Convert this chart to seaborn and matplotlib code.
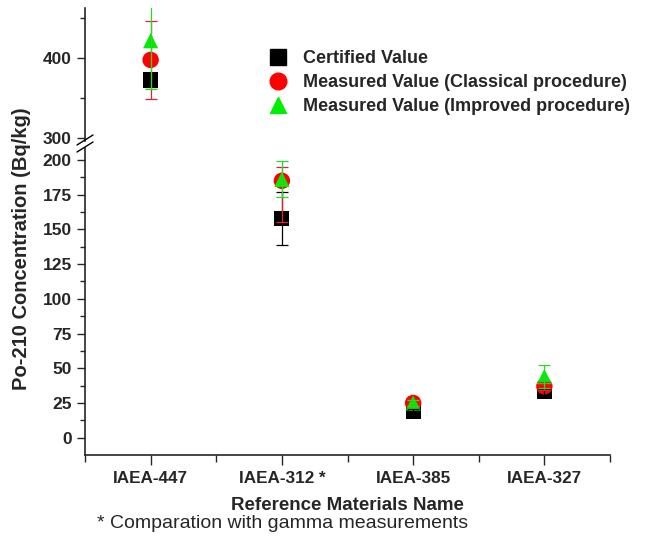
import numpy as np
import pandas as pd
import matplotlib
matplotlib.use("Agg")
import matplotlib.pyplot as plt
from matplotlib.lines import Line2D
from matplotlib.ticker import MultipleLocator, FixedLocator
import seaborn as sns

# ---- data ----
categories = ["IAEA-447", "IAEA-312 *", "IAEA-385", "IAEA-327"]
certified = [373, 158, 19, 33]
certified_err = [9, 19, 2, 2]
classical = [398, 185, 25, 37]
classical_err_low = [49, 30, 2, 3]
classical_err_high = [49, 10, 2, 3]
improved = [422, 186, 25, 44]
improved_err = [61, 13, 2, 8.5]
series_names = ["Certified Value",
                "Measured Value (Classical procedure)",
                "Measured Value (Improved procedure)"]

sns.set_theme(style="ticks")
plt.rcParams["font.family"] = ["Liberation Sans", "DejaVu Sans"]
plt.rcParams["font.weight"] = "bold"

pos = np.arange(len(categories))
df = pd.DataFrame({
    "pos": np.concatenate([pos, pos, pos]),
    "value": certified + classical + improved,
    "err_low": certified_err + classical_err_low + improved_err,
    "err_high": certified_err + classical_err_high + improved_err,
    "series": np.repeat(series_names, len(categories)),
})

colors = {series_names[0]: "#000000", series_names[1]: "#ff0000", series_names[2]: "#00ee00"}
markers = {series_names[0]: "s", series_names[1]: "o", series_names[2]: "^"}
sizes = {series_names[0]: 120, series_names[1]: 140, series_names[2]: 120}
ecolors = {series_names[0]: "#000000", series_names[1]: "#e0203a", series_names[2]: "#22dd22"}

W, H = 645, 539
fig = plt.figure(figsize=(6.45, 5.39), dpi=100)
L, R = 85, 610
ax_low = fig.add_axes([L / W, (H - 454.5) / H, (R - L) / W, (454.5 - 148) / H])
ax_up = fig.add_axes([L / W, (H - 141) / H, (R - L) / W, (141 - 8) / H])

for ax in (ax_low, ax_up):
    for s in series_names:
        sub = df[df["series"] == s]
        sns.scatterplot(data=sub, x="pos", y="value", ax=ax, marker=markers[s],
                        color=colors[s], s=sizes[s], edgecolor="none",
                        legend=False, zorder=2)
    for s in series_names:
        sub = df[df["series"] == s]
        ax.errorbar(sub["pos"], sub["value"],
                    yerr=[sub["err_low"].to_numpy(), sub["err_high"].to_numpy()],
                    fmt="none", ecolor=ecolors[s], elinewidth=0.9, capsize=4,
                    capthick=0.9, zorder=3)
    ax.set_xlim(-0.5, len(categories) - 0.5)
    ax.set_xlabel("")
    ax.set_ylabel("")
    ax.set_facecolor("white")
    for sp in ("top", "right"):
        ax.spines[sp].set_visible(False)
    ax.spines["left"].set_linewidth(1.2)
    ax.spines["bottom"].set_linewidth(1.2)
    ax.tick_params(axis="y", which="major", length=6, width=1.0, labelsize=12.5)
    ax.tick_params(axis="y", which="minor", length=3.5, width=1.0)

ax_low.set_ylim(-12.1, 208.6)
ax_low.yaxis.set_major_locator(MultipleLocator(25))
ax_low.yaxis.set_minor_locator(MultipleLocator(12.5))
ax_low.set_xticks(pos)
ax_low.set_xticklabels(categories, fontsize=12.3, fontweight="bold")
ax_low.xaxis.set_minor_locator(FixedLocator(np.arange(-0.5, len(categories), 1.0)))
ax_low.tick_params(axis="x", which="major", length=7, width=1.0, pad=5)
ax_low.tick_params(axis="x", which="minor", length=5, width=1.0)

ax_up.set_ylim(296.6, 462.9)
ax_up.yaxis.set_major_locator(MultipleLocator(100))
ax_up.yaxis.set_minor_locator(MultipleLocator(50))
ax_up.spines["bottom"].set_visible(False)
ax_up.set_xticks([])
ax_up.xaxis.set_minor_locator(FixedLocator([]))

for ax in (ax_low, ax_up):
    for lab in ax.get_yticklabels():
        lab.set_fontweight("bold")

# break marks
def px(x, y):
    return x / W, (H - y) / H
for y0 in (145, 152):
    (x1, y1), (x2, y2) = px(77, y0), px(93, y0 - 10)
    fig.add_artist(Line2D([x1, x2], [y1, y2], color="black", lw=1.0,
                          transform=fig.transFigure))

# legend
handles = [Line2D([], [], linestyle="none", marker=markers[s], color=colors[s],
                  markersize=11 if s != series_names[1] else 12) for s in series_names]
leg = fig.legend(handles, series_names, loc="upper left",
                 bbox_to_anchor=px(260, 43), frameon=False,
                 prop={"weight": "bold", "size": 13}, handletextpad=0.8,
                 labelspacing=0.38, borderaxespad=0, handlelength=1.2)

fig.text(*px(22, 249), "Po-210 Concentration (Bq/kg)", rotation=90,
         ha="center", va="center", fontsize=14.5, fontweight="bold")
fig.text(*px(347, 505), "Reference Materials Name", ha="center", va="center",
         fontsize=13.5, fontweight="bold")
fig.text(*px(97, 523), "* Comparation with gamma measurements", ha="left",
         va="center", fontsize=14, fontweight="normal")

fig.savefig("out.png", dpi=100, facecolor="white")
